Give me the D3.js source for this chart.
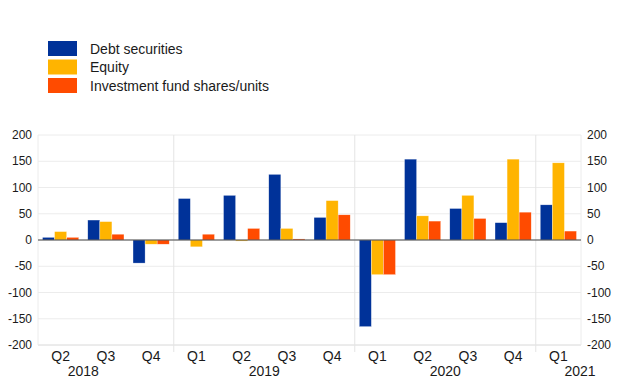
<!DOCTYPE html>
<html lang='en'>
<head>
	<meta charset='UTF-8'/>
	<title>Debt, equity and fund shares</title>
	<script src='https://cdnjs.cloudflare.com/ajax/libs/d3/7.8.5/d3.min.js'></script>
	<style>
		body {margin: 0; background: #fff;}
		svg {font-family: 'Liberation Sans', Arial, sans-serif; display: block;}
	</style>
</head>
<body>
	<div class='graph'></div>
	<script>
		// data
		const quarters = ['Q2', 'Q3', 'Q4', 'Q1', 'Q2', 'Q3', 'Q4', 'Q1', 'Q2', 'Q3', 'Q4', 'Q1'];
		const years = ['2018', '2019', '2020', '2021'];
		const seriesNames = ['Debt securities', 'Equity', 'Investment fund shares/units'];
		const debt = [5, 38, -44, 79, 85, 125, 43, -165, 154, 60, 33, 67];
		const equity = [16, 35, -8, -13, -2, 22, 75, -66, 46, 85, 154, 147];
		const funds = [5, 11, -8, 11, 22, 2, 48, -66, 36, 41, 53, 17];
		const yTicks = [200, 150, 100, 50, 0, -50, -100, -150, -200];

		const colours = ['#003299', '#FFB400', '#FF4B00'];
		const series = [debt, equity, funds];

		const width = 620, height = 387;
		const margin = {top: 135, right: 39, bottom: 42, left: 38};

		const svg = d3.select('.graph')
			.append('svg')
			.attr('width', width)
			.attr('height', height);

		// scales
		const idx = quarters.map((q, i) => i);
		const X_SCALE = d3.scaleBand()
			.domain(idx)
			.range([margin.left, width - margin.right])
			.paddingInner(0.2)
			.paddingOuter(0.1);
		const X_STEP = d3.scaleBand().domain(idx).range([margin.left, width - margin.right]);
		const INNER = d3.scaleBand()
			.domain([0, 1, 2])
			.range([0, X_SCALE.bandwidth()]);
		const Y_SCALE = d3.scaleLinear()
			.domain([-200, 200])
			.range([height - margin.bottom, margin.top]);

		// grid
		const grid = svg.append('g');
		grid.selectAll('line.h')
			.data(yTicks)
			.enter()
			.append('line')
			.attr('x1', margin.left)
			.attr('x2', width - margin.right)
			.attr('y1', d => Y_SCALE(d))
			.attr('y2', d => Y_SCALE(d))
			.style('stroke', d => d === -200 ? '#d8d8d8' : '#ececec')
			.style('stroke-width', 1);

		// year separators: before Q1 of each year
		const seps = [3, 7, 11].map(i => X_STEP(i));
		grid.selectAll('line.v')
			.data([margin.left, width - margin.right])
			.enter()
			.append('line')
			.attr('x1', d => d).attr('x2', d => d)
			.attr('y1', margin.top).attr('y2', height - margin.bottom)
			.style('stroke', '#ececec');
		grid.selectAll('line.s')
			.data(seps)
			.enter()
			.append('line')
			.attr('x1', d => d).attr('x2', d => d)
			.attr('y1', margin.top).attr('y2', height - margin.bottom + 7)
			.style('stroke', '#e4e4e4');

		// bars
		series.forEach((vals, s) => {
			svg.append('g')
				.selectAll('rect')
				.data(vals)
				.enter()
				.append('rect')
				.attr('x', (d, i) => X_SCALE(i) + INNER(s))
				.attr('width', INNER.bandwidth())
				.attr('y', d => Y_SCALE(Math.max(0, d)))
				.attr('height', d => Math.abs(Y_SCALE(d) - Y_SCALE(0)))
				.style('fill', colours[s])
				.style('stroke', 'rgba(255,255,255,0.6)')
				.style('stroke-width', 0.5);
		});

		// zero line
		svg.append('line')
			.attr('x1', margin.left)
			.attr('x2', width - margin.right)
			.attr('y1', Y_SCALE(0))
			.attr('y2', Y_SCALE(0))
			.style('stroke', '#444')
			.style('stroke-width', 1);

		// y labels both sides
		const axisText = {size: '12px', fill: '#1a1a1a'};
		svg.selectAll('text.yl')
			.data(yTicks)
			.enter()
			.append('text')
			.attr('x', margin.left - 6)
			.attr('y', d => Y_SCALE(d) + 4)
			.attr('text-anchor', 'end')
			.style('font-size', axisText.size)
			.style('fill', axisText.fill)
			.text(d => d);
		svg.selectAll('text.yr')
			.data(yTicks)
			.enter()
			.append('text')
			.attr('x', width - margin.right + 6)
			.attr('y', d => Y_SCALE(d) + 4)
			.attr('text-anchor', 'start')
			.style('font-size', axisText.size)
			.style('fill', axisText.fill)
			.text(d => d);

		// quarter labels
		svg.selectAll('text.q')
			.data(quarters)
			.enter()
			.append('text')
			.attr('x', (d, i) => X_STEP(i) + X_STEP.bandwidth() / 2)
			.attr('y', height - margin.bottom + 16)
			.attr('text-anchor', 'middle')
			.style('font-size', '14px')
			.style('fill', axisText.fill)
			.text(d => d);

		// year labels, centred on the four quarters of each year (2018 starts at Q2)
		const yearPos = [-1, 3, 7, 11].map(i => X_STEP.step() * (i + 2) + margin.left);
		svg.selectAll('text.yr2')
			.data(years)
			.enter()
			.append('text')
			.attr('x', (d, i) => i === 3 ? 580 : yearPos[i])
			.attr('y', height - margin.bottom + 31)
			.attr('text-anchor', 'middle')
			.style('font-size', '14px')
			.style('fill', axisText.fill)
			.text(d => d);

		// legend
		const legend = svg.append('g').attr('transform', 'translate(48, 41)');
		seriesNames.forEach((name, i) => {
			legend.append('rect')
				.attr('x', 0)
				.attr('y', i * 18.5)
				.attr('width', 29)
				.attr('height', 15)
				.style('fill', colours[i]);
			legend.append('text')
				.attr('x', 42)
				.attr('y', i * 18.5 + 12.5)
				.style('font-size', '14px')
				.style('fill', '#1a1a1a')
				.text(name);
		});
	</script>
</body>
</html>
